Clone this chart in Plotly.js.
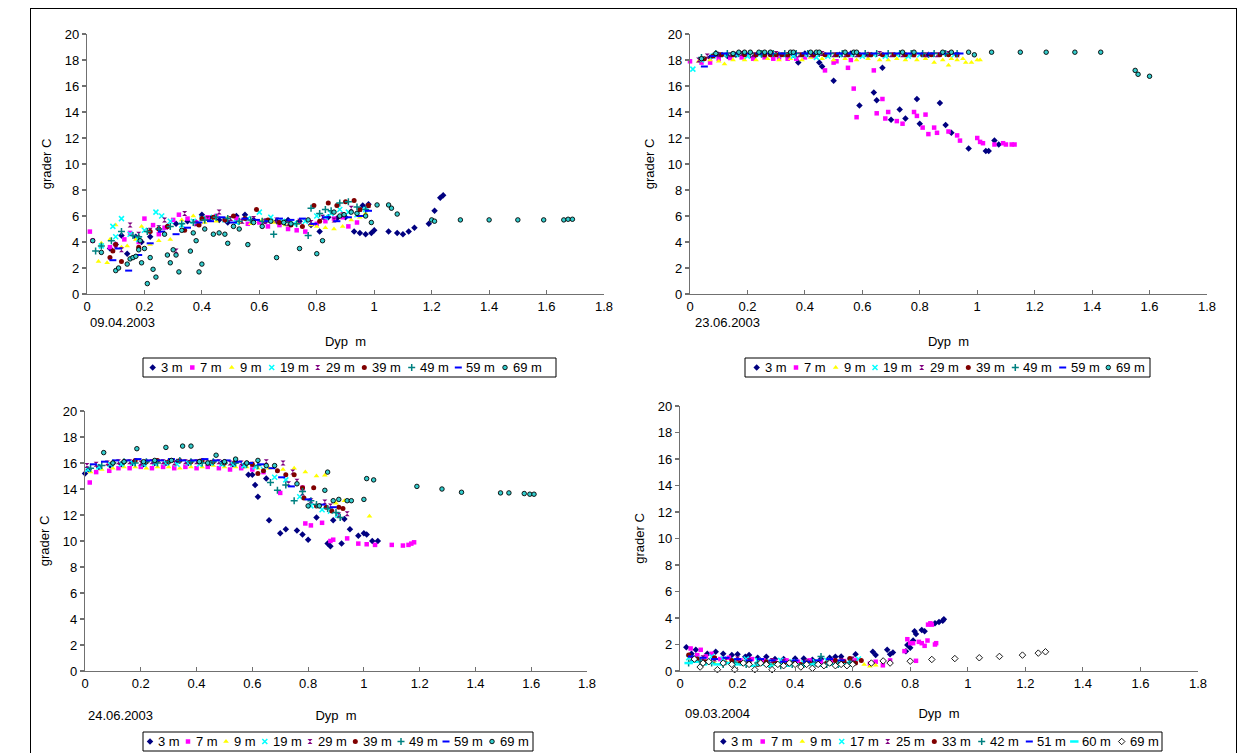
<!DOCTYPE html>
<html>
<head>
<meta charset="utf-8">
<script src="https://cdn.plot.ly/plotly-3.0.1.min.js"></script>
<style>
  html, body { margin:0; padding:0; background:#fff; }
  #wrap { position:relative; width:1237px; height:753px; overflow:hidden; }
  #chart { position:absolute; left:0; top:0; width:1237px; height:753px; }
  #frame { position:absolute; left:30px; top:8px; width:1205px; height:760px; border:1px solid #000; pointer-events:none; }
</style>
</head>
<body>
<div id="wrap"><div id="chart"></div><div id="frame"></div></div>
<script>
// ---------- DATA (depth m, temperature °C) ----------
const dates = ["09.04.2003", "23.06.2003", "24.06.2003", "09.03.2004"];
const names1 = ["3 m","7 m","9 m","19 m","29 m","39 m","49 m","59 m","69 m"];
const names4 = ["3 m","7 m","9 m","17 m","25 m","33 m","42 m","51 m","60 m","69 m"];
const xTitle = "Dyp\u00a0 m";
const yTitle = "grader C";

// Panel 1: 09.04.2003
const p1_3m = [[0.08,3.5],[0.10,3.8],[0.12,4.5],[0.14,3.1],[0.17,4.4],[0.19,4.0],[0.22,4.4],[0.25,5.0],[0.28,5.2],[0.31,5.4],[0.35,5.6],[0.38,5.5],[0.40,6.1],[0.43,5.8],[0.46,5.7],[0.49,5.5],[0.52,6.0],[0.55,6.1],[0.58,5.7],[0.62,5.6],[0.66,5.6],[0.70,5.7],[0.74,5.6],[0.78,5.3],[0.81,4.8],[0.84,5.9],[0.87,5.8],[0.90,5.9],[0.93,4.8],[0.95,4.7],[0.96,6.8],[0.97,4.6],[0.98,6.9],[0.99,4.7],[1.00,4.9],[1.05,4.8],[1.08,4.7],[1.10,4.6],[1.12,4.8],[1.14,5.1],[1.19,5.4],[1.21,6.4],[1.23,7.4],[1.24,7.6]];
const p1_7m = [[0.01,4.8],[0.02,4.1],[0.08,3.6],[0.10,3.8],[0.13,4.2],[0.15,4.7],[0.18,4.0],[0.20,5.8],[0.23,5.3],[0.25,4.6],[0.27,5.1],[0.30,5.7],[0.32,6.1],[0.35,5.8],[0.38,5.5],[0.42,5.9],[0.45,6.0],[0.48,5.7],[0.52,5.8],[0.56,5.4],[0.60,5.5],[0.63,5.2],[0.67,5.3],[0.70,5.0],[0.73,4.9],[0.76,4.8],[0.80,5.4],[0.83,5.6],[0.86,5.8],[0.89,5.9],[0.91,5.2],[0.94,5.5]];
const p1_9m = [[0.04,2.5],[0.05,3.9],[0.07,2.4],[0.08,4.2],[0.10,5.3],[0.12,3.6],[0.14,3.7],[0.17,4.2],[0.19,5.2],[0.22,3.8],[0.25,4.1],[0.29,4.2],[0.33,5.7],[0.37,6.0],[0.41,5.5],[0.45,5.6],[0.49,5.9],[0.53,5.5],[0.57,5.4],[0.61,5.7],[0.65,5.5],[0.69,5.3],[0.73,5.4],[0.78,5.3],[0.80,5.2],[0.83,5.1],[0.86,5.0],[0.89,5.2],[0.92,5.7],[0.95,5.9],[0.97,6.2]];
const p1_19m = [[0.05,3.7],[0.09,5.2],[0.10,4.4],[0.12,5.8],[0.15,4.6],[0.18,4.2],[0.20,4.9],[0.24,6.3],[0.26,6.0],[0.29,5.6],[0.33,5.3],[0.37,5.6],[0.40,5.8],[0.44,5.9],[0.48,5.7],[0.52,5.5],[0.56,5.8],[0.60,6.3],[0.64,5.9],[0.68,5.6],[0.72,5.4],[0.76,5.6],[0.80,6.0],[0.83,5.9],[0.85,6.2],[0.88,6.5],[0.91,6.3],[0.94,6.1],[0.97,6.5]];
const p1_29m = [[0.10,3.7],[0.12,3.4],[0.15,5.3],[0.18,4.6],[0.22,4.9],[0.25,5.1],[0.27,5.7],[0.31,3.3],[0.34,6.2],[0.38,5.4],[0.42,5.8],[0.46,6.3],[0.50,5.8],[0.54,5.6],[0.58,5.8],[0.62,5.6],[0.66,5.7],[0.70,5.4],[0.74,5.6],[0.78,5.5],[0.82,5.9],[0.86,5.7],[0.89,6.1],[0.92,6.6],[0.95,6.5],[0.98,6.8]];
const p1_39m = [[0.08,2.8],[0.09,3.3],[0.10,3.8],[0.12,2.5],[0.18,3.6],[0.22,4.8],[0.25,5.0],[0.28,5.2],[0.34,4.9],[0.39,5.3],[0.40,5.8],[0.44,5.9],[0.48,5.7],[0.51,6.0],[0.55,5.8],[0.59,6.5],[0.63,5.7],[0.67,5.5],[0.71,5.3],[0.75,5.2],[0.79,6.8],[0.81,5.6],[0.84,7.0],[0.87,6.8],[0.90,7.1],[0.93,7.2],[0.95,6.5],[0.98,6.8]];
const p1_49m = [[0.03,3.3],[0.05,3.7],[0.085,4.1],[0.12,4.8],[0.16,4.5],[0.18,4.4],[0.21,4.8],[0.25,5.0],[0.29,5.2],[0.33,5.4],[0.37,5.5],[0.41,5.7],[0.45,5.9],[0.49,5.8],[0.53,5.6],[0.57,5.7],[0.61,5.6],[0.65,4.6],[0.69,5.5],[0.73,5.4],[0.77,4.5],[0.78,6.6],[0.81,6.2],[0.83,6.5],[0.85,6.4],[0.88,7.0],[0.91,7.1],[0.94,6.7],[0.97,6.5]];
const p1_59m = [[0.09,2.6],[0.11,3.5],[0.145,1.8],[0.18,3.0],[0.22,3.9],[0.26,4.8],[0.31,4.6],[0.35,5.1],[0.39,5.5],[0.43,5.6],[0.47,5.9],[0.51,5.5],[0.55,5.8],[0.59,5.7],[0.63,5.6],[0.67,5.8],[0.71,5.7],[0.75,5.8],[0.79,5.4],[0.83,5.9],[0.87,5.6],[0.91,5.9],[0.95,6.0],[0.98,6.4]];
const p1_69m = [[0.02,4.1],[0.05,3.2],[0.10,1.8],[0.11,2.0],[0.14,2.3],[0.15,2.7],[0.16,2.8],[0.17,2.9],[0.18,3.4],[0.185,4.1],[0.19,2.4],[0.20,3.5],[0.21,0.8],[0.22,2.8],[0.23,1.9],[0.24,1.3],[0.27,4.6],[0.28,3.0],[0.29,2.4],[0.30,3.4],[0.31,3.0],[0.32,1.7],[0.33,4.9],[0.36,3.3],[0.37,4.7],[0.38,4.1],[0.39,1.7],[0.40,2.3],[0.41,5.0],[0.44,4.6],[0.46,4.7],[0.48,4.6],[0.49,3.9],[0.51,5.2],[0.53,5.0],[0.56,3.8],[0.58,5.5],[0.61,5.2],[0.64,5.6],[0.66,2.8],[0.685,5.5],[0.71,5.4],[0.74,3.5],[0.77,5.7],[0.80,3.1],[0.82,4.1],[0.86,6.3],[0.88,6.0],[0.895,6.1],[0.92,6.3],[0.94,6.2],[0.97,6.0],[0.99,5.5],[1.01,6.85],[1.05,6.85],[1.06,6.6],[1.08,6.15],[1.20,5.7],[1.21,5.6],[1.30,5.7],[1.40,5.7],[1.50,5.7],[1.59,5.7],[1.66,5.7],[1.675,5.75],[1.69,5.75]];

// Panel 2: 23.06.2003
const p2_3m = [[0.04,18.0],[0.07,18.2],[0.10,18.4],[0.13,18.3],[0.16,18.4],[0.19,18.5],[0.22,18.2],[0.25,18.4],[0.28,18.5],[0.31,18.4],[0.34,18.3],[0.36,18.4],[0.377,17.8],[0.40,18.5],[0.43,18.4],[0.45,17.8],[0.46,17.5],[0.50,16.4],[0.52,18.4],[0.56,18.5],[0.59,14.5],[0.62,18.4],[0.64,15.5],[0.65,14.9],[0.67,17.4],[0.70,13.4],[0.73,14.2],[0.75,13.5],[0.79,15.0],[0.80,13.1],[0.83,18.4],[0.87,14.7],[0.89,13.0],[0.91,12.4],[0.97,11.2],[1.03,11.0],[1.04,11.0],[1.06,11.8],[1.075,11.5]];
const p2_7m = [[0.00,17.9],[0.04,17.8],[0.07,17.8],[0.10,18.1],[0.14,18.15],[0.18,18.2],[0.22,18.1],[0.26,18.2],[0.29,18.1],[0.31,18.2],[0.34,18.1],[0.37,18.1],[0.40,18.2],[0.43,18.3],[0.47,17.2],[0.50,17.8],[0.51,17.9],[0.55,17.4],[0.56,18.0],[0.57,15.8],[0.58,13.6],[0.64,17.2],[0.65,13.9],[0.67,15.0],[0.68,13.5],[0.69,14.0],[0.72,13.3],[0.74,13.1],[0.78,14.0],[0.79,13.7],[0.81,12.8],[0.82,13.8],[0.83,12.3],[0.85,12.8],[0.86,12.4],[0.90,12.5],[0.93,12.2],[0.94,11.8],[1.00,12.0],[1.01,11.7],[1.02,11.6],[1.06,11.5],[1.09,11.6],[1.10,11.5],[1.12,11.5],[1.13,11.5]];
const p2_9m = [[0.03,17.9],[0.07,18.0],[0.10,17.9],[0.12,17.7],[0.15,18.0],[0.19,18.0],[0.23,18.0],[0.27,18.1],[0.31,18.0],[0.35,18.1],[0.39,18.0],[0.42,18.2],[0.46,18.1],[0.50,18.0],[0.54,18.1],[0.58,18.0],[0.62,18.1],[0.66,18.0],[0.69,18.0],[0.72,18.1],[0.75,18.0],[0.79,18.0],[0.82,18.1],[0.85,17.8],[0.88,18.0],[0.90,17.6],[0.91,18.1],[0.93,18.0],[0.95,18.1],[0.96,17.8],[0.98,17.8],[1.00,18.0],[1.01,18.0]];
const p2_19m = [[0.01,17.3],[0.04,18.0],[0.08,18.3],[0.12,18.4],[0.16,18.4],[0.20,18.3],[0.24,18.4],[0.28,18.5],[0.32,18.4],[0.36,18.3],[0.40,18.4],[0.44,18.2],[0.48,18.3],[0.52,18.4],[0.56,18.4],[0.60,18.3],[0.64,18.4],[0.68,18.3],[0.72,18.4],[0.76,18.3],[0.80,18.4],[0.84,18.4],[0.88,18.5],[0.92,18.4]];
const p2_29m = [[0.03,18.0],[0.06,18.3],[0.10,18.4],[0.14,18.4],[0.18,18.5],[0.22,18.4],[0.26,18.4],[0.30,18.5],[0.34,18.4],[0.38,18.4],[0.42,18.4],[0.46,18.5],[0.50,18.4],[0.54,18.4],[0.58,18.4],[0.62,18.4],[0.66,18.5],[0.70,18.4],[0.74,18.4],[0.78,18.4],[0.82,18.4],[0.86,18.4],[0.90,18.5],[0.93,18.4]];
const p2_39m = [[0.05,18.1],[0.08,18.3],[0.11,18.4],[0.15,18.4],[0.19,18.4],[0.23,18.4],[0.26,18.4],[0.28,18.4],[0.30,18.4],[0.32,18.4],[0.34,18.4],[0.39,18.4],[0.43,18.4],[0.47,18.4],[0.51,18.4],[0.55,18.4],[0.59,18.4],[0.63,18.4],[0.67,18.4],[0.71,18.4],[0.75,18.4],[0.78,18.4],[0.81,18.4],[0.84,18.4],[0.87,18.4],[0.90,18.4],[0.93,18.4]];
const p2_49m = [[0.04,18.2],[0.09,18.5],[0.13,18.5],[0.17,18.5],[0.21,18.5],[0.25,18.5],[0.29,18.5],[0.33,18.5],[0.37,18.5],[0.41,18.5],[0.45,18.5],[0.49,18.5],[0.53,18.5],[0.57,18.5],[0.61,18.5],[0.65,18.5],[0.69,18.5],[0.73,18.5],[0.77,18.5],[0.81,18.5],[0.85,18.5],[0.89,18.5],[0.93,18.5]];
const p2_59m = [[0.05,17.5],[0.08,18.3],[0.12,18.5],[0.16,18.5],[0.20,18.5],[0.24,18.5],[0.28,18.5],[0.32,18.5],[0.36,18.5],[0.40,18.5],[0.44,18.5],[0.48,18.5],[0.52,18.5],[0.56,18.5],[0.60,18.5],[0.64,18.5],[0.68,18.5],[0.72,18.5],[0.76,18.5],[0.80,18.5],[0.84,18.5],[0.88,18.5],[0.92,18.5],[0.94,18.5]];
const p2_69m = [[0.04,18.1],[0.09,18.5],[0.15,18.5],[0.17,18.6],[0.19,18.6],[0.21,18.6],[0.24,18.6],[0.26,18.6],[0.28,18.6],[0.35,18.6],[0.36,18.6],[0.42,18.6],[0.44,18.6],[0.45,18.6],[0.54,18.6],[0.57,18.6],[0.58,18.6],[0.74,18.6],[0.78,18.6],[0.88,18.6],[0.91,18.6],[0.97,18.6],[0.99,18.4],[1.05,18.6],[1.15,18.6],[1.24,18.6],[1.34,18.6],[1.43,18.6],[1.55,17.2],[1.56,16.9],[1.60,16.75]];

// Panel 3: 24.06.2003
const p3_3m = [[0.00,15.2],[0.013,15.5],[0.05,15.7],[0.09,15.8],[0.13,15.9],[0.17,16.0],[0.21,15.9],[0.25,16.0],[0.29,16.0],[0.33,16.1],[0.37,16.0],[0.41,16.1],[0.45,16.0],[0.49,16.0],[0.53,15.9],[0.57,15.8],[0.586,15.1],[0.60,15.1],[0.61,14.3],[0.62,13.4],[0.65,14.8],[0.66,11.6],[0.70,10.6],[0.72,10.9],[0.76,10.8],[0.78,10.5],[0.80,10.1],[0.83,11.8],[0.87,9.8],[0.88,9.6],[0.89,11.6],[0.92,9.8],[0.93,11.7],[0.95,10.9],[0.98,10.4],[1.00,10.6],[1.01,10.5],[1.03,10.0],[1.05,10.0]];
const p3_7m = [[0.017,14.5],[0.04,15.3],[0.087,15.4],[0.12,15.6],[0.16,15.6],[0.20,15.7],[0.24,15.6],[0.28,15.7],[0.32,15.6],[0.36,15.7],[0.40,15.6],[0.44,15.7],[0.48,15.6],[0.52,15.5],[0.56,15.6],[0.60,15.5],[0.64,15.3],[0.70,13.7],[0.78,14.1],[0.79,11.35],[0.81,11.2],[0.85,11.4],[0.88,10.0],[0.89,10.1],[0.94,10.2],[0.98,9.8],[1.01,9.75],[1.04,9.7],[1.10,9.7],[1.14,9.65],[1.16,9.7],[1.17,9.8],[1.18,9.9]];
const p3_9m = [[0.02,15.3],[0.06,15.5],[0.10,15.6],[0.14,15.7],[0.18,15.7],[0.22,15.6],[0.26,15.7],[0.30,15.7],[0.34,15.6],[0.38,15.7],[0.42,15.7],[0.46,15.8],[0.50,15.7],[0.54,15.7],[0.58,15.7],[0.62,15.6],[0.66,15.6],[0.71,15.5],[0.75,15.6],[0.79,15.3],[0.83,15.0],[0.86,15.05],[0.90,12.9],[0.93,13.1],[1.02,11.9]];
const p3_19m = [[0.01,15.5],[0.05,15.7],[0.09,15.9],[0.13,15.9],[0.17,16.0],[0.21,15.9],[0.25,16.0],[0.29,16.0],[0.33,15.9],[0.37,16.0],[0.41,15.9],[0.45,16.0],[0.49,15.9],[0.53,15.9],[0.57,15.8],[0.61,15.7],[0.64,15.5],[0.68,14.9],[0.72,14.7],[0.77,13.4],[0.81,12.7],[0.85,12.4],[0.88,12.3],[0.905,12.0]];
const p3_29m = [[0.007,15.8],[0.04,15.9],[0.08,16.0],[0.12,16.1],[0.16,16.1],[0.20,16.0],[0.24,16.1],[0.28,16.1],[0.32,16.0],[0.36,16.1],[0.40,16.1],[0.44,16.0],[0.48,16.1],[0.52,16.0],[0.56,16.0],[0.60,15.9],[0.65,16.1],[0.71,16.0],[0.73,14.4],[0.745,15.3],[0.76,14.6],[0.78,13.7],[0.81,13.1],[0.86,13.0],[0.88,12.7],[0.91,12.0],[0.94,12.1]];
const p3_39m = [[0.10,16.0],[0.14,16.1],[0.18,16.2],[0.22,16.1],[0.26,16.2],[0.30,16.1],[0.34,16.2],[0.38,16.1],[0.42,16.2],[0.46,16.1],[0.50,16.0],[0.54,16.1],[0.58,16.0],[0.60,15.9],[0.62,15.2],[0.64,15.4],[0.69,15.4],[0.72,15.1],[0.75,15.1],[0.78,14.1],[0.785,13.3],[0.82,14.1],[0.83,12.7],[0.865,12.6],[0.885,12.3],[0.91,12.6],[0.925,12.5]];
const p3_49m = [[0.02,15.6],[0.06,15.8],[0.10,16.0],[0.14,16.1],[0.18,16.0],[0.22,16.1],[0.26,16.0],[0.30,16.1],[0.34,16.2],[0.38,16.1],[0.42,16.0],[0.46,16.1],[0.50,16.0],[0.54,16.0],[0.58,15.9],[0.62,15.8],[0.665,14.5],[0.69,13.9],[0.72,14.3],[0.75,13.1],[0.78,13.8],[0.81,13.1],[0.83,12.8],[0.87,12.5],[0.90,12.2],[0.915,11.8]];
const p3_59m = [[0.03,15.9],[0.07,16.1],[0.11,16.2],[0.15,16.2],[0.19,16.3],[0.23,16.2],[0.27,16.2],[0.31,16.3],[0.35,16.2],[0.39,16.2],[0.43,16.3],[0.47,16.2],[0.51,16.2],[0.55,16.1],[0.59,16.0],[0.63,15.9],[0.67,15.6],[0.705,14.9],[0.74,14.2],[0.80,13.2],[0.85,12.8],[0.89,12.6]];
const p3_69m = [[0.067,16.8],[0.10,16.0],[0.14,16.1],[0.186,17.1],[0.21,16.1],[0.25,16.2],[0.29,17.2],[0.31,16.2],[0.35,17.3],[0.38,17.3],[0.41,16.1],[0.44,16.0],[0.47,16.6],[0.50,16.1],[0.54,16.3],[0.58,16.0],[0.62,16.2],[0.65,15.8],[0.68,15.8],[0.76,14.4],[0.80,12.7],[0.84,12.7],[0.86,13.9],[0.87,15.3],[0.89,13.1],[0.91,13.2],[0.94,13.1],[0.955,13.1],[1.00,13.2],[1.01,14.8],[1.035,14.7],[1.19,14.2],[1.28,14.0],[1.35,13.75],[1.49,13.7],[1.52,13.7],[1.575,13.65],[1.595,13.6],[1.61,13.6]];

// Panel 4: 09.03.2004
const p4_3m = [[0.022,1.8],[0.04,1.3],[0.055,1.6],[0.095,1.3],[0.124,1.45],[0.15,1.3],[0.18,1.2],[0.20,1.27],[0.227,1.07],[0.24,1.2],[0.27,1.0],[0.30,1.07],[0.33,0.9],[0.36,0.9],[0.40,0.95],[0.43,0.95],[0.46,0.85],[0.49,0.9],[0.52,1.0],[0.54,1.07],[0.56,1.1],[0.61,1.27],[0.67,1.45],[0.68,1.2],[0.72,1.6],[0.73,1.27],[0.74,1.4],[0.785,1.5],[0.79,1.96],[0.80,1.75],[0.81,2.3],[0.815,3.0],[0.82,2.8],[0.84,3.1],[0.85,3.0],[0.886,3.6],[0.90,3.7],[0.913,3.8],[0.917,3.9]];
const p4_7m = [[0.037,1.7],[0.06,1.2],[0.072,1.6],[0.09,1.1],[0.11,1.3],[0.14,0.9],[0.17,1.0],[0.21,0.8],[0.25,0.9],[0.29,0.8],[0.33,0.7],[0.37,0.8],[0.41,0.7],[0.45,0.8],[0.49,0.7],[0.53,0.8],[0.57,0.75],[0.61,0.8],[0.66,0.55],[0.68,0.7],[0.705,0.43],[0.73,0.8],[0.78,1.5],[0.79,2.4],[0.80,2.1],[0.81,2.1],[0.82,0.77],[0.83,2.2],[0.84,2.1],[0.85,1.9],[0.86,2.3],[0.862,3.5],[0.87,3.6],[0.875,3.5],[0.886,2.0],[0.89,2.1]];
const p4_9m = [[0.04,0.8],[0.08,0.7],[0.12,0.6],[0.16,0.7],[0.20,0.6],[0.24,0.5],[0.28,0.6],[0.32,0.5],[0.36,0.6],[0.40,0.5],[0.44,0.6],[0.48,0.5],[0.52,0.6],[0.56,0.6],[0.60,0.55],[0.64,0.5],[0.66,0.35],[0.68,0.43]];
const p4_17m = [[0.03,1.0],[0.07,0.9],[0.11,1.1],[0.15,0.9],[0.19,0.8],[0.23,0.9],[0.27,0.8],[0.31,0.7],[0.35,0.8],[0.39,0.7],[0.43,0.6],[0.47,0.7],[0.51,0.8],[0.55,0.7],[0.59,0.8],[0.62,0.9]];
const p4_25m = [[0.04,0.9],[0.08,1.0],[0.12,0.9],[0.16,0.8],[0.20,0.9],[0.24,0.8],[0.28,0.7],[0.32,0.8],[0.36,0.7],[0.40,0.6],[0.44,0.7],[0.48,0.6],[0.52,0.7],[0.56,0.8],[0.60,0.9]];
const p4_33m = [[0.03,1.2],[0.06,0.9],[0.09,0.7],[0.12,1.0],[0.15,0.6],[0.18,0.8],[0.21,0.6],[0.24,0.7],[0.27,0.5],[0.30,0.7],[0.33,0.6],[0.36,0.5],[0.39,0.6],[0.42,0.5],[0.45,0.6],[0.48,0.5],[0.51,0.6],[0.54,0.8],[0.57,0.7],[0.59,0.95],[0.61,0.6],[0.63,0.8]];
const p4_42m = [[0.03,0.6],[0.07,0.7],[0.11,0.6],[0.15,0.5],[0.19,0.6],[0.23,0.5],[0.27,0.6],[0.31,0.5],[0.35,0.4],[0.39,0.5],[0.43,0.5],[0.47,0.6],[0.49,1.1],[0.51,0.5],[0.55,0.5],[0.59,0.6]];
const p4_51m = [[0.04,1.1],[0.08,1.0],[0.12,0.9],[0.16,1.0],[0.20,0.9],[0.24,0.8],[0.28,0.9],[0.32,0.8],[0.36,0.7],[0.40,0.8],[0.44,0.7],[0.48,0.8],[0.52,0.9],[0.56,0.8]];
const p4_60m = [[0.03,0.6],[0.05,0.7],[0.08,0.5],[0.10,0.6],[0.13,0.5],[0.16,0.6],[0.19,0.5],[0.22,0.5],[0.25,0.4],[0.28,0.5],[0.31,0.4],[0.34,0.5],[0.37,0.4],[0.40,0.5],[0.43,0.4],[0.46,0.5],[0.49,0.4],[0.52,0.5],[0.55,0.4],[0.58,0.5]];
const p4_69m = [[0.05,0.9],[0.07,0.3],[0.08,0.6],[0.10,0.7],[0.13,0.1],[0.15,0.6],[0.18,0.5],[0.19,0.1],[0.22,0.6],[0.24,0.5],[0.26,0.1],[0.28,0.6],[0.30,0.5],[0.32,0.1],[0.34,0.5],[0.36,0.4],[0.38,0.6],[0.40,0.5],[0.42,0.3],[0.44,0.5],[0.46,0.2],[0.48,0.5],[0.50,0.4],[0.52,0.6],[0.54,0.4],[0.56,0.5],[0.58,0.4],[0.60,0.5],[0.665,0.6],[0.706,0.76],[0.73,0.6],[0.80,0.74],[0.875,0.87],[0.955,0.94],[1.04,1.0],[1.11,1.1],[1.19,1.2],[1.245,1.35],[1.27,1.45]];

const panel1 = [p1_3m,p1_7m,p1_9m,p1_19m,p1_29m,p1_39m,p1_49m,p1_59m,p1_69m];
const panel2 = [p2_3m,p2_7m,p2_9m,p2_19m,p2_29m,p2_39m,p2_49m,p2_59m,p2_69m];
const panel3 = [p3_3m,p3_7m,p3_9m,p3_19m,p3_29m,p3_39m,p3_49m,p3_59m,p3_69m];
const panel4 = [p4_3m,p4_7m,p4_9m,p4_17m,p4_25m,p4_33m,p4_42m,p4_51m,p4_60m,p4_69m];

// ---------- STYLES / LAYOUT ----------
const FONT = "Arial, 'Liberation Sans', sans-serif";
const mk = {
  d3:  {symbol:'diamond', size:5, color:'#000080'},
  d7:  {symbol:'square', size:4.5, color:'#FF00FF'},
  d9:  {symbol:'triangle-up', size:5, color:'#FFFF00'},
  dx:  {symbol:'x-thin-open', size:5, color:'#00FFFF', line:{color:'#00FFFF', width:1.5}},
  dst: {symbol:'hourglass', size:5, color:'#800080'},
  dci: {symbol:'circle', size:5, color:'#800000'},
  dpl: {symbol:'cross-thin-open', size:5, color:'#008080', line:{color:'#008080', width:1.5}},
  dda: {symbol:'line-ew-open', size:5, color:'#0000FF', line:{color:'#0000FF', width:2}},
  dcy: {symbol:'line-ew-open', size:6, color:'#00FFFF', line:{color:'#00FFFF', width:2.5}},
  d69: {symbol:'circle', size:4.5, color:'#33CCCC', line:{color:'#000000', width:0.9}},
  d69w:{symbol:'diamond', size:5, color:'#FFFFFF', line:{color:'#000000', width:0.9}}
};
const styles1 = [mk.d3,mk.d7,mk.d9,mk.dx,mk.dst,mk.dci,mk.dpl,mk.dda,mk.d69];
const styles4 = [mk.d3,mk.d7,mk.d9,mk.dx,mk.dst,mk.dci,mk.dpl,mk.dda,mk.dcy,mk.d69w];

const W = 1237, H = 753;
// plot-area boxes in pixels: [left, right, top, bottom]
const boxes = [[87,604,34,294],[690,1207,34,294],[85,587,411,671],[680,1198,406,671]];
const xStandoff = [24,24,21,19];
const datePos = [[88,322],[693,322],[86,715],[683,713]];
// legend boxes [left,right,top,bottom] and symbol x-positions (px)
const legendBox = [[143,556,358,377],[745,1150,358,377],[143,533,732,751],[714,1162,732,751]];
const legendSymX = [
  [152.7,192.3,231.7,271.7,317.7,364.3,411.7,458.3,505],
  [756.7,796,835.7,875,921.7,968.3,1015.3,1062.7,1108.3],
  [150,188,226,264.8,310,355.3,401,446,492],
  [723.3,762.7,802.3,841.7,887.7,934.3,981.7,1029.3,1074.3,1121.7]
];

const traces = [];
function addPanel(n, series, styles){
  series.forEach((s,i)=>{
    traces.push({
      type:'scatter', mode:'markers', name:(n===4?names4:names1)[i],
      x: s.map(p=>p[0]), y: s.map(p=>p[1]),
      xaxis: n===1?'x':'x'+n, yaxis: n===1?'y':'y'+n,
      marker: styles[i], cliponaxis:false, showlegend:false
    });
  });
}
addPanel(1, panel1, styles1);
addPanel(2, panel2, styles1);
addPanel(3, panel3, styles1);
addPanel(4, panel4, styles4);

const layout = {
  width:W, height:H, margin:{l:0,r:0,t:0,b:0,autoexpand:false},
  paper_bgcolor:'rgba(0,0,0,0)', plot_bgcolor:'rgba(0,0,0,0)',
  font:{family:FONT, size:13, color:'#000'},
  showlegend:false, annotations:[], shapes:[]
};
// overlay pixel axes for the legend keys
layout.xaxis5 = {domain:[0,1], range:[0,W], visible:false, fixedrange:true, anchor:'y5'};
layout.yaxis5 = {domain:[0,1], range:[H,0], visible:false, fixedrange:true, anchor:'x5'};

boxes.forEach((b,i)=>{
  const n = i+1;
  const xk = n===1?'xaxis':'xaxis'+n, yk = n===1?'yaxis':'yaxis'+n;
  const xa = n===1?'x':'x'+n, ya = n===1?'y':'y'+n;
  layout[xk] = {
    domain:[b[0]/W, b[1]/W], anchor:ya, range:[0,1.8], tick0:0, dtick:0.2,
    showgrid:false, zeroline:false, showline:true, linecolor:'#707070', linewidth:1.2,
    ticks:'inside', ticklen:4, tickcolor:'#707070', tickwidth:1.2,
    tickfont:{family:FONT, size:13, color:'#000'},
    title:{text:xTitle, font:{family:FONT, size:13, color:'#000'}, standoff:xStandoff[i]}
  };
  layout[yk] = {
    domain:[1-b[3]/H, 1-b[2]/H], anchor:xa, range:[0,20], tick0:0, dtick:2,
    showgrid:false, zeroline:false, showline:true, linecolor:'#707070', linewidth:1.2,
    ticks:'outside', ticklen:4, tickcolor:'#707070', tickwidth:1.2,
    tickfont:{family:FONT, size:13, color:'#000'},
    title:{text:yTitle, font:{family:FONT, size:13, color:'#000'}, standoff:10}
  };
  layout.annotations.push({
    xref:'paper', yref:'paper', x:datePos[i][0]/W, y:1-datePos[i][1]/H,
    xanchor:'left', yanchor:'middle', showarrow:false, text:dates[i],
    font:{family:FONT, size:13, color:'#000'}
  });
  // legend box
  const lb = legendBox[i];
  layout.shapes.push({type:'rect', xref:'paper', yref:'paper',
    x0:lb[0]/W, x1:lb[1]/W, y0:1-lb[3]/H, y1:1-lb[2]/H,
    line:{color:'#000', width:1}, fillcolor:'#fff', layer:'below'});
  const cy = (lb[2]+lb[3])/2;
  const nm = n===4?names4:names1, st = n===4?styles4:styles1;
  nm.forEach((t,j)=>{
    const sx = legendSymX[i][j];
    traces.push({type:'scatter', mode:'markers', x:[sx], y:[cy], xaxis:'x5', yaxis:'y5',
      marker:st[j], showlegend:false, hoverinfo:'skip', cliponaxis:false});
    layout.annotations.push({xref:'paper', yref:'paper', x:(sx+6)/W, y:1-cy/H,
      xanchor:'left', yanchor:'middle', showarrow:false, text:t,
      font:{family:FONT, size:13, color:'#000'}});
  });
});

Plotly.newPlot('chart', traces, layout, {staticPlot:true, displayModeBar:false});
</script>
</body>
</html>
